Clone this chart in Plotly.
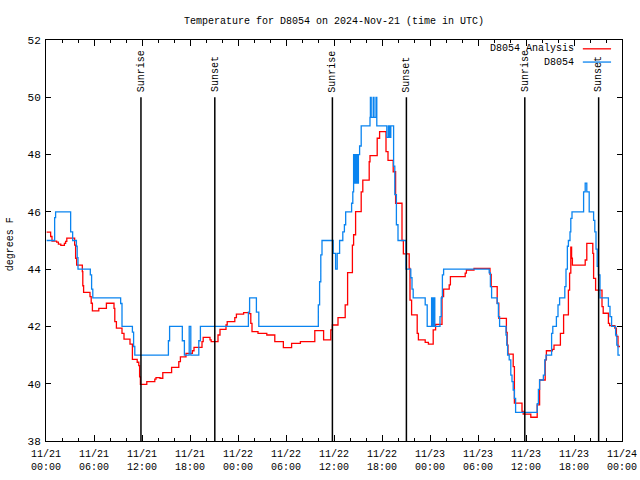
import plotly.graph_objects as go
import pandas as pd

# ---------------- data ----------------
base_time = "2024-11-21 00:00"

# D8054 observations: hours since base, temperature (deg F), step series
obs_hours = [0.08, 1.08, 1.2, 3.08, 3.33, 3.8, 3.9, 4.0, 5.54, 5.7, 5.85, 9.33, 9.5,
             10.8, 10.95, 11.1, 15.3, 15.45, 17.04, 17.3, 17.9, 18.1, 19.1, 19.3,
             25.3, 25.45, 26.3, 26.6, 34.04, 34.2, 34.35, 34.5, 35.9, 36.2, 36.4,
             36.7, 37.1, 37.3, 37.46, 38.2, 38.35, 38.45, 38.6, 38.75, 38.9, 39.05,
             39.2, 39.4, 40.5, 40.55, 40.65, 40.9, 41.0, 41.25, 41.35,
             42.6, 42.8, 42.95, 43.1, 43.45, 43.6, 43.8, 44.0, 45.0, 45.6,
             45.75, 45.9, 47.4, 47.65, 48.2, 48.35, 48.5, 48.6, 49.25, 49.4, 49.55,
             49.7, 55.4, 55.55, 55.7, 56.4, 56.55, 56.7, 57.5, 57.6, 57.7, 57.9,
             58.1, 58.25, 58.4, 58.55, 58.7, 61.4, 61.55, 61.7, 62.17, 62.35, 62.5,
             63.2, 63.35, 63.8, 64.0, 64.2, 64.85, 65.0, 65.17, 65.3, 65.5, 65.6,
             65.75, 67.2, 67.4, 67.6, 67.9, 68.45, 68.6, 68.75, 68.9, 69.05, 69.25,
             70.3, 70.5, 70.7, 71.2, 71.35, 71.5, 71.75]
obs_temps = [45, 45.8, 46, 45.3, 45, 44.8, 44.4, 44, 43.8, 43.3, 43, 42.8, 42,
             41.8, 41.3, 41, 41.5, 42, 41.5, 41, 42, 41, 41.5, 42,
             42.5, 43, 42.5, 42, 42.75, 43.56, 44.5, 45, 44.55, 44, 44.55,
             45, 45.3, 45.55, 46, 46.3, 46.7, 48, 47, 48, 47, 48,
             48.3, 49, 49.3, 50, 49.3, 50, 49.3, 50, 49,
             48.6, 49, 48.6, 49, 47.6, 46.6, 45.55, 45, 44, 43.7,
             43.3, 43, 42.75, 42, 43, 42, 43, 42, 42.34, 43, 43.8,
             44, 43.87, 43.39, 43, 42.8, 42.34, 42, 41.7, 41.35, 41, 40.83,
             40.3, 40.07, 39.78, 39.49, 39, 39.3, 39.8, 40.13, 40.3, 40.83, 41,
             41.76, 42, 42.34, 42.75, 43, 43.39, 44, 44.8, 45, 45.3, 45.77,
             46, 46.7, 47, 46.7, 46, 45.7, 45.3, 44.7, 44.1, 43.8, 43,
             42.7, 42.34, 42, 41.7, 41.35, 41, 41]

# D8054 Analysis: hours since base, temperature (deg F), step series
ana_hours = [0.08, 0.58, 0.75, 1.33, 1.55, 1.85, 2.3, 2.45, 2.6, 3.58, 3.7, 3.83,
             4.54, 4.6, 4.7, 5.5, 5.65, 5.8, 6.6, 7.55, 8.5, 8.6, 8.8, 9.5, 9.75,
             10.5, 10.8, 11.4, 11.6, 11.7, 11.8, 12.6, 13.6, 13.75, 14.25, 14.6,
             15.7, 16.6, 16.8, 17.5, 18.3, 18.5, 19.5, 19.65, 20.5, 20.65, 21.5,
             21.75, 22.5, 22.65, 23.6, 23.8, 24.7, 25.4, 25.6, 25.75, 26.5, 27.6,
             28.6, 29.67, 30.7, 31.8, 33.6, 34.7, 35.6, 35.8, 36.5, 37.4, 37.7,
             38.3, 38.45, 38.7, 39.4, 39.6, 40.4, 40.5, 41.4, 41.7, 42.5, 42.75,
             43.4, 43.7, 44.5, 44.67, 45.4, 45.5, 45.7, 46.4, 46.55, 47.4, 47.8,
             48.4, 48.7, 49.5, 49.7, 50.4, 50.55, 52.4, 52.55, 53.5, 55.5, 55.65,
             56.4, 56.6, 57.55, 57.65, 57.75, 58.4, 58.55, 59.5, 59.65, 60.6,
             61.4, 61.7, 62.4, 62.55, 63.3, 63.5, 64.3, 64.7, 65.3, 65.45, 65.6,
             65.7, 65.8, 67.4, 67.6, 68.35, 68.45, 68.7, 69.5, 69.65, 70.3, 70.45,
             71.1, 71.3, 71.5, 71.75]
ana_temps = [45.29, 45.14, 44.98, 44.94, 44.87, 44.83, 44.9, 44.97, 45.08, 44.84, 44.38, 44.14,
             43.91, 43.42, 43.19, 43.04, 42.81, 42.54, 42.63, 42.81, 42.63, 42.17, 41.94, 41.76, 41.56,
             41.38, 40.85, 40.75, 40.63, 40.24, 39.98, 40.07, 40.16, 40.21, 40.19, 40.39,
             40.57, 40.77, 40.94, 41.06, 41.15, 41.27, 41.47, 41.62, 41.53, 41.47, 41.7,
             41.9, 42.05, 42.17, 42.31, 42.43, 42.48, 42.45, 42.11, 41.82, 41.76, 41.7,
             41.47, 41.26, 41.41, 41.47, 41.85, 41.53, 41.88, 42.05, 42.31, 42.75, 43.88,
             44.84, 45.2, 46.01, 46.7, 47.11, 47.75, 47.96, 48.57, 48.8, 48.1, 47.8,
             47.4, 46.3, 45.0, 44.53, 44.03, 42.92, 42.4, 41.76, 41.53, 41.44, 41.38,
             41.88, 42.07, 43.04, 43.3, 43.45, 43.74, 43.86, 43.97, 44.03, 43.82, 43.39,
             42.81, 42.28, 41.79, 41.35, 41.03, 40.6, 39.32, 39.03, 38.94, 38.83,
             39.26, 40.13, 40.83, 41.15, 41.2, 41.35, 41.76, 42.4, 43.27, 43.86, 44.77,
             44.38, 44.14, 44.32, 44.9, 44.55, 43.68, 43.27, 42.69, 42.46, 42.11, 42.03,
             41.94, 41.65, 41.3, 41.3]

sun_hours = [11.87, 21.1, 35.8, 45.05, 59.85, 69.08]
sun_labels = ["Sunrise", "Sunset", "Sunrise", "Sunset", "Sunrise", "Sunset"]
sun_top = 50

y_ticks = [38, 40, 42, 44, 46, 48, 50, 52]
x_range = ["2024-11-21 00:00", "2024-11-24 00:00"]

title_text = "Temperature for D8054 on 2024-Nov-21 (time in UTC)"
y_title = "degrees F"
series_names = ["D8054 Analysis", "D8054"]
series_colors = ["#FF0000", "#0A84F0"]

# ---------------- figure ----------------
t0 = pd.Timestamp(base_time)
to_time = lambda hrs: [t0 + pd.to_timedelta(h, unit="h") for h in hrs]

MONO = "Liberation Mono"

fig = go.Figure()
fig.add_trace(go.Scatter(x=to_time(ana_hours), y=ana_temps, mode="lines",
                         line=dict(color=series_colors[0], width=1.3, shape="hv"),
                         name=series_names[0], showlegend=False))
fig.add_trace(go.Scatter(x=to_time(obs_hours), y=obs_temps, mode="lines",
                         line=dict(color=series_colors[1], width=1.3, shape="hv"),
                         name=series_names[1], showlegend=False))

for h, lab in zip(to_time(sun_hours), sun_labels):
    fig.add_shape(type="line", xref="x", yref="y", x0=h, x1=h, y0=y_ticks[0], y1=sun_top,
                  line=dict(color="black", width=1.5), layer="above")
    fig.add_annotation(x=h, y=sun_top, xref="x", yref="y", text=lab, textangle=-90,
                       showarrow=False, yanchor="bottom", xanchor="center", yshift=3,
                       font=dict(family=MONO, size=10, color="black"))

# legend (gnuplot style: text then line sample on the right)
leg_y = [0.978, 0.945]
for name, col, yy in zip(series_names, series_colors, leg_y):
    fig.add_annotation(x=0.92, y=yy, xref="paper", yref="paper", text=name,
                       showarrow=False, xanchor="right", yanchor="middle",
                       font=dict(family=MONO, size=10, color="black"))
    fig.add_shape(type="line", xref="paper", yref="paper", x0=0.932, x1=0.981,
                  y0=yy, y1=yy, line=dict(color=col, width=1.3))

fig.add_annotation(x=-0.061, y=0.49, xref="paper", yref="paper", text=y_title,
                   textangle=-90, showarrow=False, xanchor="center", yanchor="middle",
                   font=dict(family=MONO, size=10, color="black"))

fig.update_layout(
    width=640, height=480,
    margin=dict(l=46, r=18, t=40, b=39, autoexpand=False),
    paper_bgcolor="white", plot_bgcolor="white",
    title=dict(text=title_text, x=0.5, xref="paper", y=1 - 20 / 480, yanchor="middle",
               font=dict(family=MONO, size=10, color="black")),
    showlegend=False,
    hovermode=False,
    font=dict(family=MONO, size=10, color="black"),
)
fig.update_xaxes(type="date", range=x_range, dtick=6 * 3600 * 1000,
                 tick0="2024-11-21 00:00", tickformat="%m/%d<br>%H:%M",
                 ticks="inside", ticklen=6, tickcolor="black", tickwidth=1,
                 minor=dict(dtick=2 * 3600 * 1000, ticks="inside", ticklen=3,
                            tickcolor="black", showgrid=False),
                 showline=True, linecolor="black", linewidth=1, mirror="allticks",
                 showgrid=False, zeroline=False, automargin=False,
                 ticklabelstandoff=3,
                 tickfont=dict(family=MONO, size=10, color="black"))
fig.update_yaxes(range=[y_ticks[0], y_ticks[-1]], tickvals=y_ticks,
                 ticks="inside", ticklen=5, tickcolor="black", tickwidth=1,
                 showline=True, linecolor="black", linewidth=1, mirror="allticks",
                 showgrid=False, zeroline=False, automargin=False,
                 ticklabelstandoff=2,
                 tickfont=dict(family=MONO, size=11, color="black"))

fig.write_html("out.html", config={"displayModeBar": False, "staticPlot": True},
               post_script="document.body.style.margin='0px';document.body.style.overflow='hidden';")
